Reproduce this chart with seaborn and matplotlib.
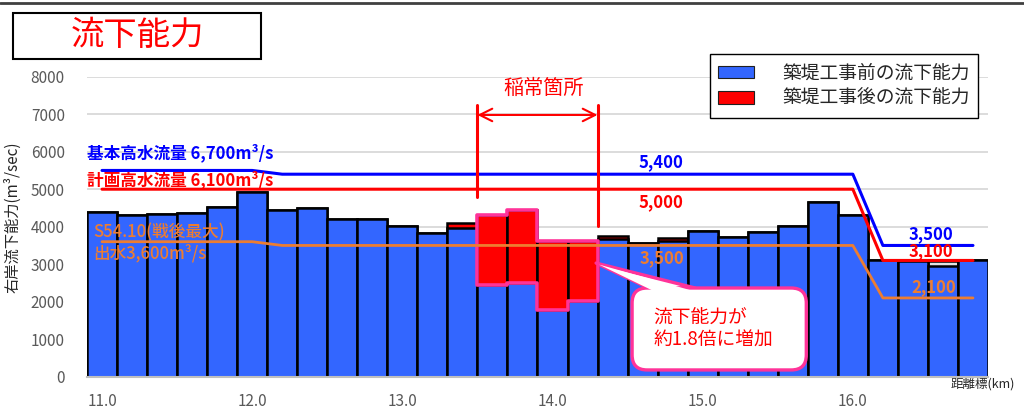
import matplotlib
matplotlib.use('Agg')
import matplotlib.pyplot as plt
from matplotlib.patches import Rectangle, FancyBboxPatch, Polygon, Patch
from matplotlib.lines import Line2D
import seaborn as sns

# distance marks (km) of each section
km = [11.0, 11.2, 11.4, 11.6, 11.8, 12.0, 12.2, 12.4, 12.6, 12.8,
      13.0, 13.2, 13.4, 13.6, 13.8, 14.0, 14.2, 14.4, 14.6, 14.8,
      15.0, 15.2, 15.4, 15.6, 15.8, 16.0, 16.2, 16.4, 16.6, 16.8]
# flow capacity before levee works (m3/s)
before = [4380, 4320, 4340, 4355, 4520, 4920, 4440, 4490, 4210, 4210,
          4030, 3845, 3955, 2440, 2500, 1780, 2020, 3680, 3560, 3630,
          3890, 3730, 3860, 4030, 4670, 4300, 3120, 3090, 2950, 3120]
# flow capacity after levee works (m3/s)
after = [4380, 4320, 4340, 4355, 4520, 4920, 4440, 4490, 4210, 4210,
         4030, 3845, 4100, 4320, 4445, 3630, 3630, 3745, 3560, 3690,
         3890, 3730, 3860, 4030, 4670, 4300, 3120, 3090, 3090, 3120]

# design lines
kihon_km = [11.0, 12.0, 12.2, 16.0, 16.2, 16.8]
kihon_q = [5500, 5500, 5400, 5400, 3500, 3500]
keikaku_km = [11.0, 16.0, 16.2, 16.8]
keikaku_q = [5000, 5000, 3100, 3100]
s54_km = [11.0, 12.0, 12.2, 16.0, 16.2, 16.8]
s54_q = [3600, 3600, 3500, 3500, 2100, 2100]

# 稲常箇所 sections (index of first / last bar)
inatsune = (13, 16)

xticks = [11.0, 12.0, 13.0, 14.0, 15.0, 16.0]
xtick_labels = ['11.0', '12.0', '13.0', '14.0', '15.0', '16.0']
yticks = [0, 1000, 2000, 3000, 4000, 5000, 6000, 7000, 8000]

BLUE_BAR = '#3366FF'
RED = '#FF0000'
BLUE = '#0000FF'
ORANGE = '#ED7D31'
PINK = '#FF3399'
GRAY = '#595959'

sns.set_style('white')
plt.rcParams['font.family'] = ['Noto Sans CJK JP', 'DejaVu Sans']

fig = plt.figure(figsize=(10.24, 4.09), dpi=100)
ax = fig.add_axes([87 / 1024, 1 - 376.7 / 409, 901 / 1024, 300 / 409])

sns.barplot(x=km, y=after, native_scale=True, width=1.0, color=RED, saturation=1,
            edgecolor='black', linewidth=1.8, errorbar=None, ax=ax, zorder=2)
ax.containers[0][28].set_facecolor('#E4E4E4')
sns.barplot(x=km, y=before, native_scale=True, width=1.0, color=BLUE_BAR, saturation=1,
            edgecolor='black', linewidth=1.8, errorbar=None, ax=ax, zorder=3)

# outline around the red part
i0, i1 = inatsune
step = 0.1
pts = [(km[i0] - step, before[i0])]
for i in range(i0, i1 + 1):
    pts.append((km[i] - step, after[i]))
    pts.append((km[i] + step, after[i]))
for i in range(i1, i0 - 1, -1):
    pts.append((km[i] + step, before[i]))
    pts.append((km[i] - step, before[i]))
ax.add_patch(Polygon(pts, closed=True, fill=False, ec=PINK, lw=2.6, zorder=4, joinstyle='round'))

sns.lineplot(x=kihon_km, y=kihon_q, color=BLUE, lw=2.2, ax=ax, zorder=5)
sns.lineplot(x=keikaku_km, y=keikaku_q, color=RED, lw=2.2, ax=ax, zorder=5)
sns.lineplot(x=s54_km, y=s54_q, color=ORANGE, lw=2.0, ax=ax, zorder=5)

ax.set_xlim(10.9, 16.9)
ax.set_ylim(0, 8000)
ax.set_yticks(yticks)
ax.set_xticks(xticks)
ax.set_xticklabels(xtick_labels)
ax.set_xticks([k - 0.1 for k in km] + [km[-1] + 0.1], minor=True)
ax.tick_params(axis='y', length=0, pad=16, labelsize=11, labelcolor=GRAY)
ax.tick_params(axis='x', which='major', length=0, pad=12, labelsize=11, labelcolor=GRAY)
ax.tick_params(axis='x', which='minor', length=5, width=1, color='#BFBFBF', direction='inout')
ax.grid(axis='y', color='#D9D9D9', lw=1.3, zorder=0)
ax.set_axisbelow(True)
for s in ['top', 'right', 'left']:
    ax.spines[s].set_visible(False)
ax.spines['bottom'].set_color('#BFBFBF')
ax.spines['bottom'].set_linewidth(1.5)
ax.spines['bottom'].set_zorder(6)

ax.set_xlabel('')
ax.set_ylabel('右岸流下能力(m³/sec)', fontsize=11, color='#262626')
ax.yaxis.set_label_coords(-0.073, 0.53)
ax.text(1.03, -0.025, '距離標(km)', transform=ax.transAxes, ha='right', va='center',
        fontsize=9, color='#262626')

# line labels
ax.text(10.9, 5965, '基本高水流量 6,700m³/s', color=BLUE, fontsize=12, fontweight='bold',
        va='center', ha='left', zorder=7)
ax.text(10.9, 5245, '計画高水流量 6,100m³/s', color=RED, fontsize=12, fontweight='bold',
        va='center', ha='left', zorder=7)
ax.text(10.94, 3860, 'S54.10(戦後最大)', color=ORANGE, fontsize=12, fontweight='medium',
        va='center', ha='left', zorder=7)
ax.text(10.94, 3300, '出水3,600m³/s', color=ORANGE, fontsize=12, fontweight='medium',
        va='center', ha='left', zorder=7)
ax.text(14.72, 5725, '5,400', color=BLUE, fontsize=12, fontweight='bold', ha='center', va='center', zorder=7)
ax.text(14.72, 4660, '5,000', color=RED, fontsize=12, fontweight='bold', ha='center', va='center', zorder=7)
ax.text(14.73, 3165, '3,500', color=ORANGE, fontsize=12, fontweight='bold', ha='center', va='center', zorder=7)
ax.text(16.52, 3805, '3,500', color=BLUE, fontsize=12, fontweight='bold', ha='center', va='center', zorder=7)
ax.text(16.52, 3350, '3,100', color=RED, fontsize=12, fontweight='bold', ha='center', va='center', zorder=7)
ax.text(16.54, 2390, '2,100', color=ORANGE, fontsize=12, fontweight='bold', ha='center', va='center', zorder=7)

# 稲常箇所 marker
xl, xr = km[i0] - step, km[i1] + step
ax.plot([xl, xl], [4790, 7245], color=RED, lw=2.2, zorder=6)
ax.plot([xr, xr], [4030, 7245], color=RED, lw=2.2, zorder=6)
ax.annotate('', xy=(xl, 6980), xytext=(xr, 6980),
            arrowprops=dict(arrowstyle='<->,head_length=0.9,head_width=0.45', color=RED, lw=1.5,
                            shrinkA=0, shrinkB=0), zorder=6)
ax.text((xl + xr) / 2 + 0.04, 7700, '稲常箇所', color=RED, fontsize=14.5, ha='center', va='center', zorder=7)

# callout
ax.add_patch(Polygon([(14.64, 2365), (14.29, 3030), (14.95, 2365)], closed=True,
                     fc='white', ec=PINK, lw=2.4, zorder=7, joinstyle='round'))
ax.add_patch(FancyBboxPatch((14.53, 180), 1.16, 2185, boxstyle='round,pad=0,rounding_size=0.1',
                            mutation_aspect=4000, fc='white', ec=PINK, lw=2.4, zorder=7))
ax.add_patch(Polygon([(14.665, 2300), (14.31, 2990), (14.925, 2300)], closed=True,
                     fc='white', ec='none', zorder=8))
ax.text(14.67, 1565, '流下能力が', color=RED, fontsize=13.5, ha='left', va='center', zorder=9)
ax.text(14.67, 980, '約1.8倍に増加', color=RED, fontsize=13.5, ha='left', va='center', zorder=9)

# legend
handles = [Patch(fc=BLUE_BAR, ec='#202020', lw=0.8), Patch(fc=RED, ec='#202020', lw=0.8)]
fig.legend(handles, ['築堤工事前の流下能力', '築堤工事後の流下能力'], loc='upper left',
           bbox_to_anchor=(710 / 1024, 1 - 54 / 409), borderaxespad=0, frameon=True, fancybox=False,
           edgecolor='black', framealpha=1, fontsize=13.5, handlelength=1.9, handleheight=0.65,
           handletextpad=1.5, borderpad=0.45, labelspacing=0.25)

# title box and top rule
fig.add_artist(Rectangle((13 / 1024, 1 - 59 / 409), 248 / 1024, 46 / 409, transform=fig.transFigure,
                         fill=False, ec='black', lw=1.5))
fig.text(137 / 1024, 1 - 36 / 409, '流下能力', color=RED, fontsize=24, ha='center', va='center')
fig.add_artist(Line2D([0, 1], [1 - 2.5 / 409] * 2, color='#404040', lw=2, transform=fig.transFigure))

fig.savefig('out.png', dpi=100)
